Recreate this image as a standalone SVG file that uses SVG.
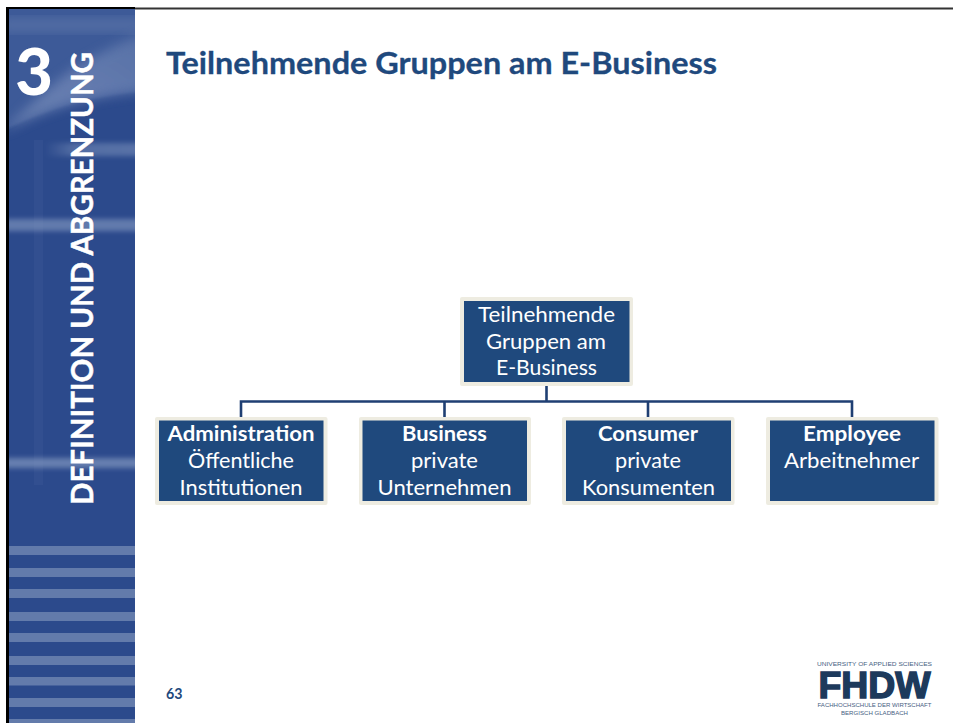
<svg xmlns="http://www.w3.org/2000/svg" width="953" height="723" viewBox="0 0 953 723">
<defs>
<linearGradient id="glowR" x1="0" y1="0" x2="1" y2="0"><stop offset="0" stop-color="#8fa3c8" stop-opacity="0"/><stop offset=".3" stop-color="#8fa3c8" stop-opacity=".4"/><stop offset="1" stop-color="#8fa3c8" stop-opacity=".45"/></linearGradient>
<linearGradient id="swoosh" x1="0" y1="1" x2="1" y2="0"><stop offset="0" stop-color="#7187b5"/><stop offset=".6" stop-color="#667db0"/><stop offset="1" stop-color="#5a74a8"/></linearGradient>
<filter id="b3" x="-20%" y="-100%" width="140%" height="300%"><feGaussianBlur stdDeviation="2.500"/></filter>
<filter id="b6" x="-20%" y="-20%" width="140%" height="140%"><feGaussianBlur stdDeviation="6"/></filter>
<filter id="b1" x="-5%" y="-5%" width="110%" height="110%"><feGaussianBlur stdDeviation="1"/></filter>
<clipPath id="side"><rect x="9" y="9" width="126" height="714"/></clipPath>
</defs>
<style>
.outer{fill:#eeece1}
.inner{fill:#1f497d}
.t{font-family:Lato,"Liberation Sans",sans-serif;font-size:21.5px;fill:#fff;text-anchor:middle}
.b{font-weight:700}
.conn{fill:none;stroke:#1f3f73;stroke-width:2.6}
.band{fill:#637bab}
.logo{font-family:"Liberation Sans",Arial,sans-serif;fill:#1d3a5c;text-anchor:middle}
.small{font-size:6px;fill:#46607f}
</style>
<rect width="953" height="723" fill="#fff"/>
<rect x="6" y="7.500" width="947" height="2" fill="#333"/>
<rect x="6" y="7" width="129" height="2.500" fill="#000"/>
<rect x="6" y="7" width="3" height="716" fill="#000"/>
<g id="sidebar">
<rect x="9" y="9" width="126" height="714" fill="#2c4a8c"/>
<g clip-path="url(#side)">
<path d="M0 0H145V91C95 96 50 106 0 133Z" fill="#3c5a98" filter="url(#b1)"/>
<path d="M0 133C25 112 50 84 75 68C95 55 115 45 145 33V91C95 96 50 106 0 133Z" fill="url(#swoosh)" filter="url(#b6)" opacity=".9"/>
<rect x="0" y="18" width="145" height="14" fill="#6e85b3" opacity=".45" filter="url(#b6)"/>
<rect x="34" y="140" width="9" height="345" fill="#4a66a0" opacity=".22"/>
<rect x="45" y="143" width="100" height="13" fill="url(#glowR)" filter="url(#b3)"/>
<rect x="0" y="219" width="145" height="12" fill="#8fa3c8" opacity=".55" filter="url(#b3)"/>
<rect x="0" y="458" width="145" height="10" fill="#8fa3c8" opacity=".6" filter="url(#b3)"/>
</g>
<rect class="band" x="9" y="546" width="126" height="9"/>
<rect class="band" x="9" y="568" width="126" height="9"/>
<rect class="band" x="9" y="589" width="126" height="9"/>
<rect class="band" x="9" y="612" width="126" height="9"/>
<rect class="band" x="9" y="633" width="126" height="9"/>
<rect class="band" x="9" y="656" width="126" height="9"/>
<rect class="band" x="9" y="677" width="126" height="8.500"/>
<rect class="band" x="9" y="698" width="126" height="9"/>
<rect class="band" x="9" y="719" width="126" height="4"/>
<text x="34" y="95" text-anchor="middle" font-family="Lato,'Liberation Sans',sans-serif" font-weight="900" font-size="65" fill="#fff">3</text>
<text transform="translate(93 505) rotate(-90)" font-family="Lato,'Liberation Sans',sans-serif" font-weight="700" font-size="30" fill="#fff" stroke="#fff" stroke-width=".5" textLength="453" lengthAdjust="spacingAndGlyphs">DEFINITION UND ABGRENZUNG</text>
</g>
<text id="title" x="166" y="74" font-family="Lato,'Liberation Sans',sans-serif" font-weight="700" font-size="30" fill="#1f497d" stroke="#1f497d" stroke-width=".3" textLength="551" lengthAdjust="spacingAndGlyphs">Teilnehmende Gruppen am E-Business</text>
<g id="connectors">
<path class="conn" d="M546.500 386V402"/>
<path class="conn" d="M241 417V401.500H852V417"/>
<path class="conn" d="M444.500 401.500V417"/>
<path class="conn" d="M648 401.500V417"/>
</g>
<g id="node-root">
<rect class="outer" x="460" y="297" width="173" height="89" rx="2"/>
<rect class="inner" x="464" y="301" width="165.500" height="81"/>
<text class="t" x="546.500" y="322" textLength="137" lengthAdjust="spacingAndGlyphs">Teilnehmende</text>
<text class="t" x="546" y="348.500" textLength="120" lengthAdjust="spacingAndGlyphs">Gruppen am</text>
<text class="t" x="546.500" y="375" textLength="101" lengthAdjust="spacingAndGlyphs">E-Business</text>
</g>
<g id="node-administration">
<rect class="outer" x="155" y="417" width="172.500" height="88" rx="2"/>
<rect class="inner" x="159" y="420.500" width="164.500" height="80.500"/>
<text class="t b" x="241" y="441" textLength="147" lengthAdjust="spacingAndGlyphs">Administration</text>
<text class="t" x="241" y="468" textLength="106" lengthAdjust="spacingAndGlyphs">Öffentliche</text>
<text class="t" x="241" y="494.500" textLength="123" lengthAdjust="spacingAndGlyphs">Institutionen</text>
</g>
<g id="node-business">
<rect class="outer" x="359" y="417" width="172" height="88" rx="2"/>
<rect class="inner" x="362.500" y="420.500" width="164.500" height="80.500"/>
<text class="t b" x="444.500" y="441" textLength="85" lengthAdjust="spacingAndGlyphs">Business</text>
<text class="t" x="444.500" y="468" textLength="67" lengthAdjust="spacingAndGlyphs">private</text>
<text class="t" x="444.500" y="494.500" textLength="134" lengthAdjust="spacingAndGlyphs">Unternehmen</text>
</g>
<g id="node-consumer">
<rect class="outer" x="562" y="417" width="172.500" height="88" rx="2"/>
<rect class="inner" x="566" y="420.500" width="165" height="80.500"/>
<text class="t b" x="648" y="441" textLength="100" lengthAdjust="spacingAndGlyphs">Consumer</text>
<text class="t" x="648" y="468" textLength="66" lengthAdjust="spacingAndGlyphs">private</text>
<text class="t" x="648.500" y="494.500" textLength="133" lengthAdjust="spacingAndGlyphs">Konsumenten</text>
</g>
<g id="node-employee">
<rect class="outer" x="766" y="417" width="172.500" height="88" rx="2"/>
<rect class="inner" x="770" y="420.500" width="164.500" height="80.500"/>
<text class="t b" x="852" y="441" textLength="98" lengthAdjust="spacingAndGlyphs">Employee</text>
<text class="t" x="851.500" y="468" textLength="135" lengthAdjust="spacingAndGlyphs">Arbeitnehmer</text>
</g>
<text id="page" x="166" y="699" font-family="Lato,'Liberation Sans',sans-serif" font-weight="700" font-size="15.500" fill="#1f497d" textLength="16.500" lengthAdjust="spacingAndGlyphs">63</text>
<g id="logo">
<text class="logo small" x="874.500" y="666" textLength="115" lengthAdjust="spacingAndGlyphs">UNIVERSITY OF APPLIED SCIENCES</text>
<text class="logo" x="874.500" y="698" font-size="37" font-weight="700" stroke="#1d3a5c" stroke-width="1.500" textLength="112" lengthAdjust="spacingAndGlyphs">FHDW</text>
<text class="logo small" x="874.500" y="706.500" textLength="114" lengthAdjust="spacingAndGlyphs">FACHHOCHSCHULE DER WIRTSCHAFT</text>
<text class="logo small" x="874.500" y="714.500" textLength="67" lengthAdjust="spacingAndGlyphs">BERGISCH GLADBACH</text>
</g>
</svg>
